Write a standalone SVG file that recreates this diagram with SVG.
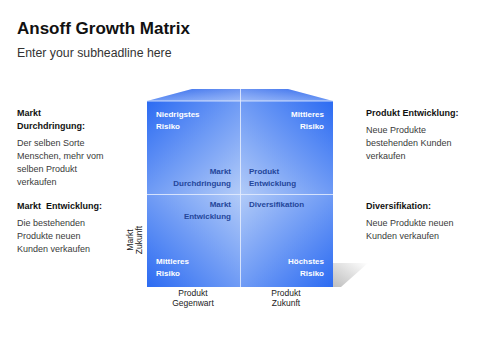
<svg xmlns="http://www.w3.org/2000/svg" width="480" height="360" viewBox="0 0 480 360">
<style>
text{font-family:"Liberation Sans",Arial,sans-serif}
.title{font-size:17px;font-weight:bold;fill:#111}
.sub{font-size:12.3px;fill:#333}
.hd{font-size:9px;font-weight:bold;fill:#111}
.bd{font-size:9px;fill:#3a3a3a}
.wl{font-size:8px;font-weight:bold;fill:#fff}
.bl{font-size:8px;font-weight:bold;fill:#24469a}
.ax{font-size:8.5px;fill:#222}
.grid{stroke:#e6eeff;stroke-width:1;opacity:0.85}
</style>
<defs>
<linearGradient id="gTL" x1="0" y1="0" x2="1" y2="1"><stop offset="0" stop-color="#2c6bf2"/><stop offset="1" stop-color="#b2cbf8"/></linearGradient>
<linearGradient id="gTR" x1="1" y1="0" x2="0" y2="1"><stop offset="0" stop-color="#2c6bf2"/><stop offset="1" stop-color="#b2cbf8"/></linearGradient>
<linearGradient id="gBL" x1="0" y1="1" x2="1" y2="0"><stop offset="0" stop-color="#2c6bf2"/><stop offset="1" stop-color="#b2cbf8"/></linearGradient>
<linearGradient id="gBR" x1="1" y1="1" x2="0" y2="0"><stop offset="0" stop-color="#2c6bf2"/><stop offset="1" stop-color="#b2cbf8"/></linearGradient>
<linearGradient id="gTop" x1="0" y1="0" x2="0" y2="1"><stop offset="0" stop-color="#2f68ec"/><stop offset="1" stop-color="#6f9af5"/></linearGradient>
<linearGradient id="gTopH" x1="0" y1="0" x2="1" y2="0"><stop offset="0" stop-color="#fff" stop-opacity="0"/><stop offset="0.5" stop-color="#fff" stop-opacity="0.3"/><stop offset="1" stop-color="#fff" stop-opacity="0"/></linearGradient>
<linearGradient id="gSh" x1="0" y1="1" x2="1" y2="0"><stop offset="0" stop-color="#9a9a9a"/><stop offset="1" stop-color="#ffffff"/></linearGradient>
</defs>

<text class="title" x="17" y="34">Ansoff Growth Matrix</text>
<text class="sub" x="17" y="57">Enter your subheadline here</text>

<g id="left-text">
<text class="hd" x="17" y="116">Markt</text>
<text class="hd" x="17" y="129">Durchdringung:</text>
<text class="bd" x="17" y="146">Der selben Sorte</text>
<text class="bd" x="17" y="159">Menschen, mehr vom</text>
<text class="bd" x="17" y="172">selben Produkt</text>
<text class="bd" x="17" y="185">verkaufen</text>
<text class="hd" x="17" y="209" xml:space="preserve">Markt  Entwicklung:</text>
<text class="bd" x="17" y="226">Die bestehenden</text>
<text class="bd" x="17" y="239">Produkte neuen</text>
<text class="bd" x="17" y="252">Kunden verkaufen</text>
</g>

<g id="right-text">
<text class="hd" x="366" y="116">Produkt Entwicklung:</text>
<text class="bd" x="366" y="133">Neue Produkte</text>
<text class="bd" x="366" y="146">bestehenden Kunden</text>
<text class="bd" x="366" y="159">verkaufen</text>
<text class="hd" x="366" y="209">Diversifikation:</text>
<text class="bd" x="366" y="226">Neue Produkte neuen</text>
<text class="bd" x="366" y="239">Kunden verkaufen</text>
</g>

<g id="matrix">
<polygon points="333,263 368,263 341,287 333,287" fill="url(#gSh)" opacity="0.65"/>
<polygon points="192,89 288,89 333,101 147,101" fill="url(#gTop)"/>
<polygon points="192,89 288,89 333,101 147,101" fill="url(#gTopH)"/>
<g id="q-tl">
<rect x="147" y="101" width="93" height="93" fill="url(#gTL)"/>
<text class="wl" x="156" y="117">Niedrigstes</text>
<text class="wl" x="156" y="129">Risiko</text>
<text class="bl" x="231" y="174" text-anchor="end">Markt</text>
<text class="bl" x="231" y="186" text-anchor="end">Durchdringung</text>
</g>
<g id="q-tr">
<rect x="240" y="101" width="93" height="93" fill="url(#gTR)"/>
<text class="wl" x="324" y="117" text-anchor="end">Mittleres</text>
<text class="wl" x="324" y="129" text-anchor="end">Risiko</text>
<text class="bl" x="249" y="174">Produkt</text>
<text class="bl" x="249" y="186">Entwicklung</text>
</g>
<g id="q-bl">
<rect x="147" y="194" width="93" height="93" fill="url(#gBL)"/>
<text class="bl" x="231" y="207" text-anchor="end">Markt</text>
<text class="bl" x="231" y="219" text-anchor="end">Entwicklung</text>
<text class="wl" x="156" y="264">Mittleres</text>
<text class="wl" x="156" y="276">Risiko</text>
</g>
<g id="q-br">
<rect x="240" y="194" width="93" height="93" fill="url(#gBR)"/>
<text class="bl" x="249" y="207">Diversifikation</text>
<text class="wl" x="324" y="264" text-anchor="end">Höchstes</text>
<text class="wl" x="324" y="276" text-anchor="end">Risiko</text>
</g>
<g id="grid-lines">
<line class="grid" x1="240.5" y1="89" x2="240.5" y2="287"/>
<line class="grid" x1="147" y1="194.5" x2="333" y2="194.5"/>
<line class="grid" x1="147" y1="101" x2="333" y2="101"/>
</g>
</g>

<g id="axis-labels">
<text class="ax" x="193" y="296" text-anchor="middle">Produkt</text>
<text class="ax" x="193" y="306" text-anchor="middle">Gegenwart</text>
<text class="ax" x="286" y="296" text-anchor="middle">Produkt</text>
<text class="ax" x="286" y="306" text-anchor="middle">Zukunft</text>
<text class="ax" transform="translate(133,240) rotate(-90)" text-anchor="middle">Markt</text>
<text class="ax" transform="translate(142,240) rotate(-90)" text-anchor="middle">Zukunft</text>
</g>
</svg>
